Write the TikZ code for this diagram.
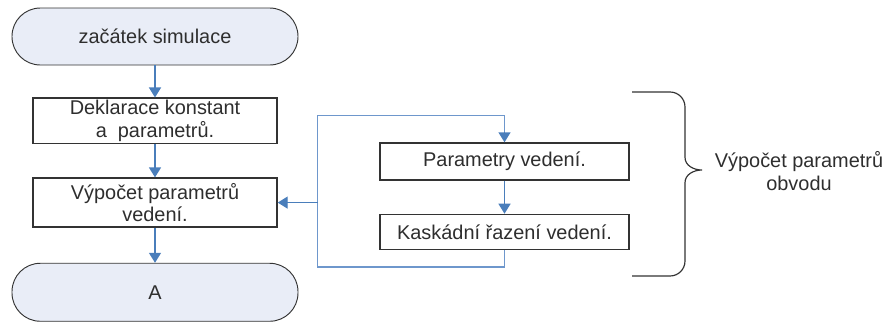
\documentclass[tikz,border=0pt]{standalone}
\usepackage{fontspec}
\setmainfont{Liberation Sans}
\usepackage{tikz}
\usetikzlibrary{arrows.meta,positioning,calc}
\definecolor{flowblue}{HTML}{4A7EBB}
\definecolor{loopblue}{HTML}{6E97CC}
\definecolor{termfill}{HTML}{E9EDF7}
\definecolor{edgegray}{HTML}{333333}
\definecolor{textgray}{HTML}{2E2E2E}
\tikzset{
  termnode/.style={
    draw=edgegray,
    fill=termfill,
    rounded corners=0.85cm,
    minimum width=8.58cm,
    align=center,
    line width=0.8pt,
    text=textgray,
    font=\fontsize{17}{19}\selectfont
  },
  stepbox/.style={
    draw=edgegray,
    fill=white,
    align=center,
    line width=1.2pt,
    inner sep=2pt,
    text=textgray,
    font=\fontsize{17}{19}\selectfont
  },
  flow/.style={-{Triangle[length=0.3cm,width=0.36cm]},line width=1.2pt,draw=flowblue,color=flowblue},
  loopline/.style={line width=1.1pt,draw=loopblue},
  bracket/.style={line width=1pt,draw=edgegray}
}

\begin{document}
\begin{tikzpicture}[node distance=0.99cm]
  \useasboundingbox (0,0) rectangle (26.58,-9.69);

  \node[termnode,minimum height=1.71cm] (start) at (4.65,-1.095) {
    začátek simulace};
  \node[stepbox,minimum width=7.32cm,minimum height=1.29cm,below=0.96cm of start] (deklarace) {
    Deklarace konstant\\a\ \ parametrů.};
  \node[stepbox,minimum width=7.32cm,minimum height=1.47cm,below=of deklarace] (vypocet) {
    Výpočet parametrů\\vedení.};
  \node[termnode,minimum height=1.74cm,below=1.05cm of vypocet] (konec) {
    A};

  \node[stepbox,minimum width=7.47cm,minimum height=1.11cm] (parvedeni) at (15.135,-4.845) {
    Parametry vedení.};
  \node[stepbox,minimum width=7.47cm,minimum height=1.05cm,below=of parvedeni] (kaskada) {
    Kaskádní řazení vedení.};

  \coordinate (joint) at ([xshift=1.2cm]vypocet.east);

  \draw[flow] (start) -- (deklarace);
  \draw[flow] (deklarace) -- (vypocet);
  \draw[flow] (vypocet) -- (konec);
  \draw[flow] (parvedeni) -- (kaskada);
  \draw[loopline] (kaskada.south) -- ++(0,-0.51) -| (joint) |- ([yshift=0.81cm]parvedeni.north) -- ([yshift=0.28cm]parvedeni.north);
  \draw[flow] ([yshift=0.3cm]parvedeni.north) -- (parvedeni.north);
  \draw[flow] (joint) -- (vypocet.east);

  % curly bracket round the loop
  \coordinate (bracetop) at (18.96,-2.76);
  \draw[bracket] (bracetop) -- ++(1.14,0) to[out=0,in=90] ++(0.45,-0.45)
    -- (20.55,-4.72) to[out=-90,in=180] (21.06,-5.10)
    to[out=180,in=90] (20.55,-5.48) -- (20.55,-7.83)
    to[out=-90,in=0] (20.10,-8.28) -- (18.96,-8.28);
  \node[text=textgray,align=center,font=\fontsize{17}{20}\selectfont] (obvod) at (23.97,-5.13) {
    Výpočet parametrů\\obvodu};
\end{tikzpicture}
\end{document}
